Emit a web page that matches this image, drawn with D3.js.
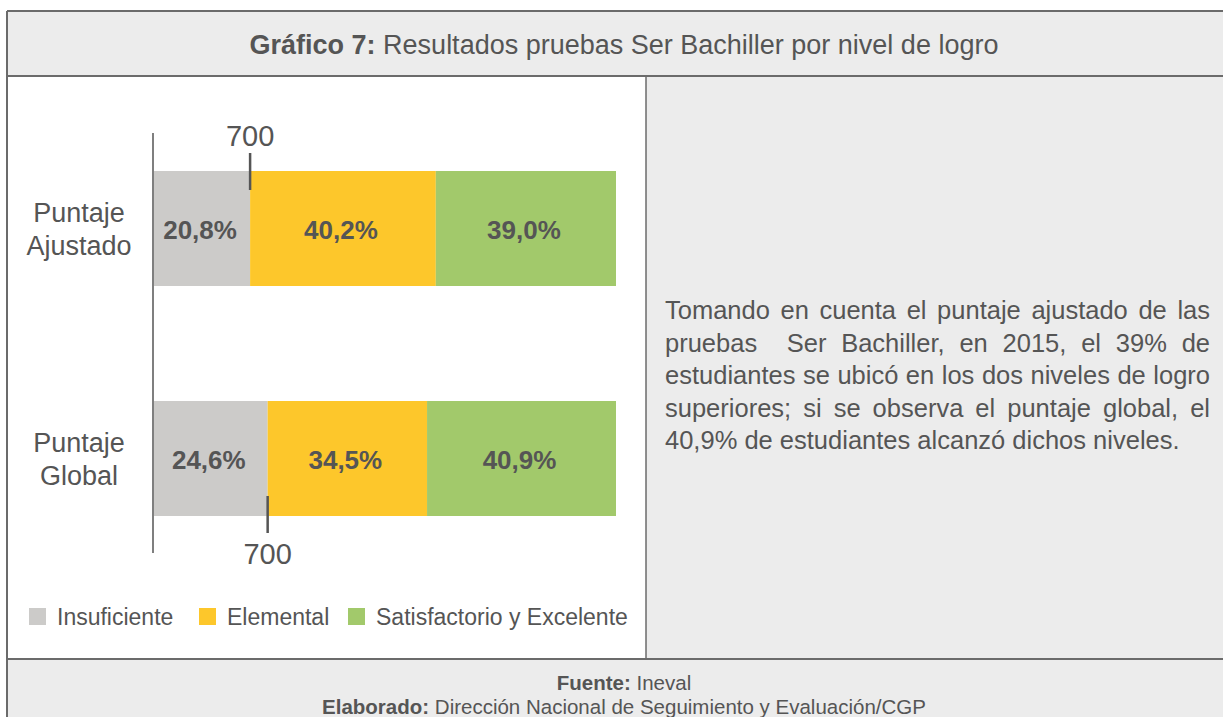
<!DOCTYPE html>
<html><head><meta charset="utf-8">
<script src="https://cdn.jsdelivr.net/npm/d3@7"></script>
<style>
html,body{margin:0;padding:0;background:#fff;}
svg{display:block;font-family:"Liberation Sans",Arial,sans-serif;}
</style></head>
<body>
<svg id="c" width="1223" height="717"></svg>
<script>
const categories = [["Puntaje","Ajustado"],["Puntaje","Global"]];
const categoryKeys = ["Ajustado","Global"];
const seriesNames = ["Insuficiente","Elemental","Satisfactorio y Excelente"];
const insuficiente = [20.8, 24.6];
const elemental = [40.2, 34.5];
const satisfactorio = [39.0, 40.9];
const thresholdLabel = ["700","700"];
const titleBold = "Gráfico 7:";
const titleRest = " Resultados pruebas Ser Bachiller por nivel de logro";
const noteLines = [
 "Tomando en cuenta el puntaje ajustado de las",
 "pruebas  Ser Bachiller, en 2015, el 39% de",
 "estudiantes se ubicó en los dos niveles de logro",
 "superiores; si se observa el puntaje global, el",
 "40,9% de estudiantes alcanzó dichos niveles."
];
const source = ["Fuente:", " Ineval"];
const elaborated = ["Elaborado:", " Dirección Nacional de Seguimiento y Evaluación/CGP"];

const colors = ["#cccbc9","#fdc72b","#a2c96b"];
const textCol = "#555555";
const border = "#6b6b6b";
const panel = "#ececec";

const svg = d3.select("#c");

// Frame
svg.append("rect").attr("x",7).attr("y",11).attr("width",1216).attr("height",706).attr("fill",panel);
svg.append("rect").attr("x",7).attr("y",76).attr("width",639).attr("height",583).attr("fill","#fff");
const ln = (x1,y1,x2,y2,w)=>svg.append("line").attr("x1",x1).attr("y1",y1).attr("x2",x2).attr("y2",y2).attr("stroke",border).attr("stroke-width",w||1.5);
ln(7,11,1223,11,2);
ln(7,11,7,717,2);
ln(7,76,1223,76,2);
ln(646,76,646,659,1.5);
ln(7,659,1223,659,2);

// Title
const t = svg.append("text").attr("x",624).attr("y",54).attr("text-anchor","middle").attr("fill",textCol).attr("font-size",27);
t.append("tspan").attr("font-weight","bold").text(titleBold);
t.append("tspan").text(titleRest);

// Scales
const x = d3.scaleLinear().domain([0,100]).range([154,616]);
const y = d3.scaleBand().domain(categoryKeys).range([171,516]).paddingInner(0.5).paddingOuter(0);

const rows = categoryKeys.map((k,i)=>{
  const vals=[insuficiente[i],elemental[i],satisfactorio[i]];
  let c=0;
  return vals.map((v,j)=>{const s={key:k,i:i,j:j,v:v,x0:c,x1:c+v};c+=v;return s;});
});
const segs = rows.flat();

svg.append("g").selectAll("rect").data(segs).join("rect")
 .attr("x",d=>x(d.x0)).attr("y",d=>y(d.key))
 .attr("width",d=>x(d.x1)-x(d.x0)).attr("height",y.bandwidth())
 .attr("fill",d=>colors[d.j]);

svg.append("g").selectAll("text").data(segs).join("text")
 .attr("x",d=>(x(d.x0)+x(d.x1))/2-2).attr("y",d=>y(d.key)+y.bandwidth()/2+10)
 .attr("text-anchor","middle").attr("font-weight","bold").attr("font-size",26).attr("fill",textCol)
 .text(d=>d.v.toFixed(1).replace(".",",")+"%");

// Axis line
ln(153, y(categoryKeys[0])-38, 153, y(categoryKeys[1])+y.bandwidth()+37, 1.5).attr("stroke","#555");

// Category labels
categoryKeys.forEach((k,i)=>{
  const cy=y(k)+y.bandwidth()/2;
  const tx=svg.append("text").attr("text-anchor","middle").attr("fill",textCol).attr("font-size",27);
  tx.append("tspan").attr("x",79).attr("y",cy-7).text(categories[i][0]);
  tx.append("tspan").attr("x",79).attr("y",cy+26).text(categories[i][1]);
});

// Threshold markers (700)
categoryKeys.forEach((k,i)=>{
  const xx=x(insuficiente[i]);
  const top=y(k), bot=y(k)+y.bandwidth();
  if(i===0){
    ln(xx, top-18, xx, top+19, 2.5).attr("stroke","#555");
    svg.append("text").attr("x",xx).attr("y",top-25).attr("text-anchor","middle").attr("font-size",29).attr("fill",textCol).text(thresholdLabel[i]);
  } else {
    ln(xx, bot-20, xx, bot+17, 2.5).attr("stroke","#555");
    svg.append("text").attr("x",xx).attr("y",bot+48).attr("text-anchor","middle").attr("font-size",29).attr("fill",textCol).text(thresholdLabel[i]);
  }
});

// Legend
const legX=[29,199,348];
seriesNames.forEach((n,i)=>{
  svg.append("rect").attr("x",legX[i]).attr("y",608).attr("width",17).attr("height",17).attr("fill",colors[i]);
  svg.append("text").attr("x",legX[i]+28).attr("y",625).attr("font-size",23).attr("fill",textCol).text(n);
});

// Justified note text
const nx0=665, nx1=1210, ny0=319, nlh=32.5, nfs=25.5;
noteLines.forEach((line,li)=>{
  const yy=ny0+li*nlh;
  const words=line.split(" ");
  const last = li===noteLines.length-1;
  if(last){
    svg.append("text").attr("x",nx0).attr("y",yy).attr("font-size",nfs).attr("fill",textCol).attr("xml:space","preserve").text(line);
    return;
  }
  const g=svg.append("g");
  const nodes=words.map(w=>g.append("text").attr("y",yy).attr("font-size",nfs).attr("fill",textCol).text(w));
  const widths=nodes.map(n=>n.node().getComputedTextLength());
  const total=d3.sum(widths);
  const gap=(nx1-nx0-total)/(words.length-1);
  let cx=nx0;
  nodes.forEach((n,k)=>{n.attr("x",cx); cx+=widths[k]+gap;});
});

// Footer
const f1=svg.append("text").attr("x",624).attr("y",690).attr("text-anchor","middle").attr("font-size",20.5).attr("fill",textCol);
f1.append("tspan").attr("font-weight","bold").text(source[0]);
f1.append("tspan").text(source[1]);
const f2=svg.append("text").attr("x",624).attr("y",714).attr("text-anchor","middle").attr("font-size",20.5).attr("fill",textCol);
f2.append("tspan").attr("font-weight","bold").text(elaborated[0]);
f2.append("tspan").text(elaborated[1]);
</script>
</body></html>
